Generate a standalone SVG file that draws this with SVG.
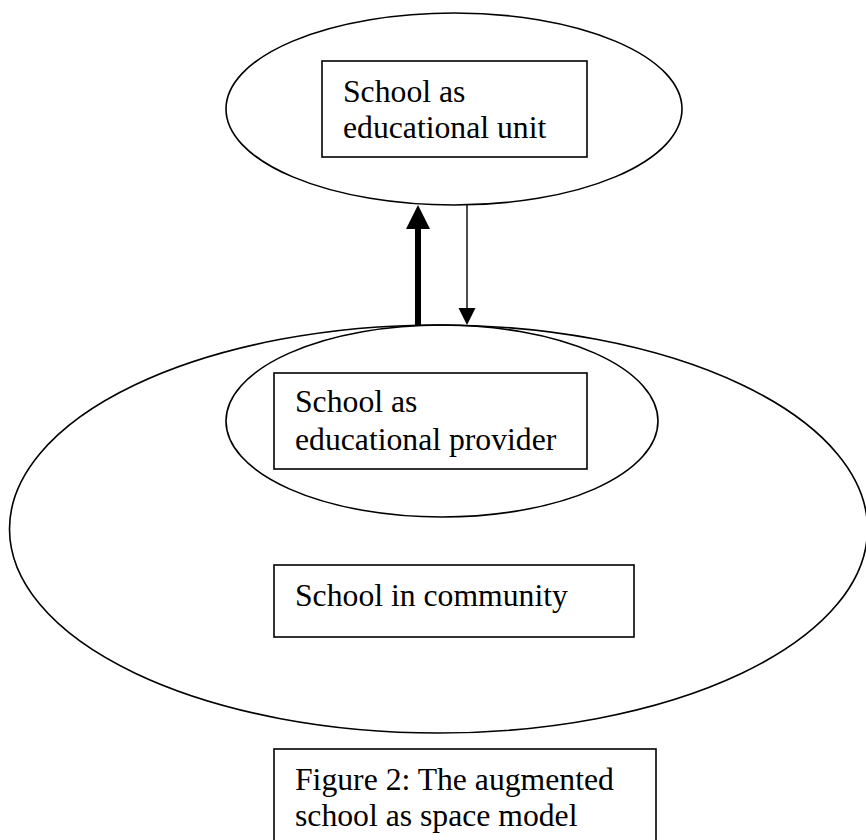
<svg xmlns="http://www.w3.org/2000/svg" width="866" height="840" viewBox="0 0 866 840">
<style>
.shape{fill:none;stroke:#000;stroke-width:1.6}
.box{fill:#fff;stroke:#000;stroke-width:1.6}
.lbl{font-family:"Liberation Serif","Times New Roman",serif;font-size:31.7px;fill:#000}
</style>
<rect width="866" height="840" fill="#fff"/>
<g id="community">
<ellipse class="shape" cx="438.5" cy="529" rx="429" ry="204"/>
</g>
<g id="provider">
<ellipse class="shape" cx="442" cy="421" rx="216" ry="96"/>
<rect class="box" x="274" y="373" width="313" height="96"/>
<text class="lbl" x="295" y="412">School as</text>
<text class="lbl" x="295" y="449.5">educational provider</text>
</g>
<g id="unit">
<ellipse class="shape" cx="454" cy="109" rx="228" ry="96"/>
<rect class="box" x="322" y="61" width="265" height="96"/>
<text class="lbl" x="343" y="101.5">School as</text>
<text class="lbl" x="343" y="138">educational unit</text>
</g>
<g id="community-label">
<rect class="box" x="274" y="565" width="360" height="72"/>
<text class="lbl" x="295" y="606">School in community</text>
</g>
<g id="caption">
<rect class="box" x="274" y="749" width="382" height="100"/>
<text class="lbl" x="295" y="789.5">Figure 2: The augmented</text>
<text class="lbl" x="295" y="826">school as space model</text>
</g>
<g id="connectors">
<rect x="415" y="227" width="6" height="98" fill="#000"/>
<polygon points="418,205 406,229 430,229" fill="#000"/>
<line x1="467" y1="205" x2="467" y2="309" stroke="#000" stroke-width="1.4"/>
<polygon points="467,325 458.5,308 475.5,308" fill="#000"/>
</g>
</svg>
